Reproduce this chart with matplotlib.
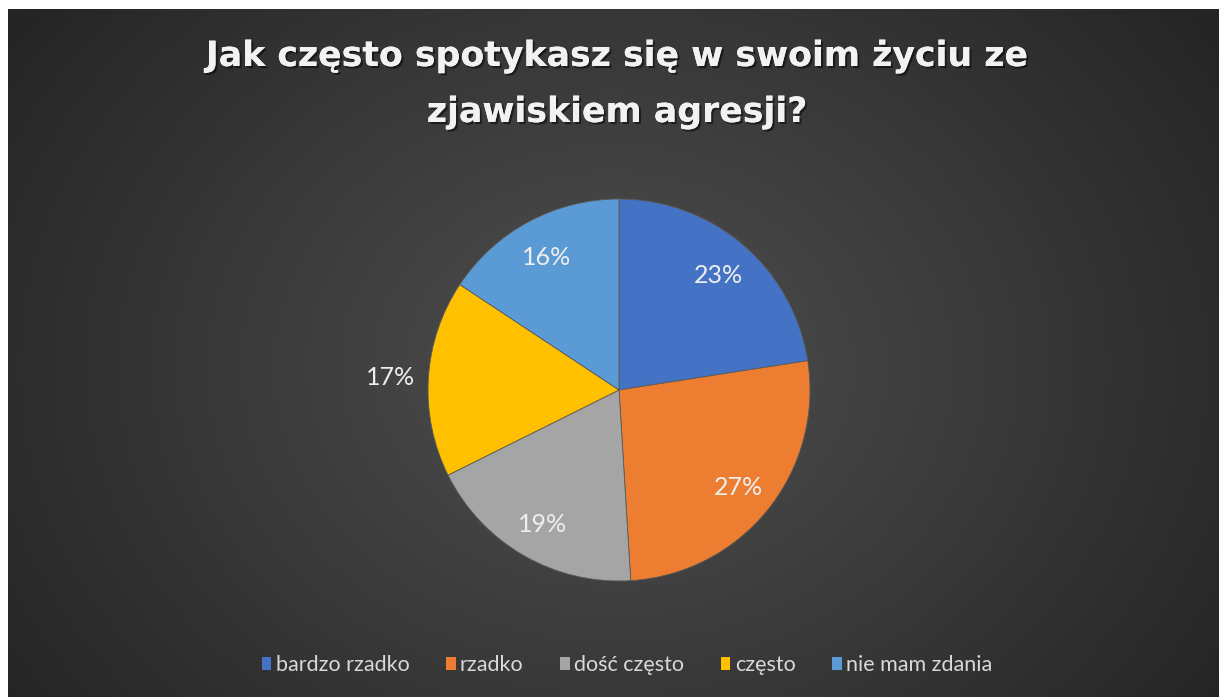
import numpy as np
import matplotlib
matplotlib.use("Agg")
import matplotlib.pyplot as plt
from matplotlib.patches import Patch
import matplotlib.patheffects as pe

categories = ["bardzo rzadko", "rzadko", "dość często", "często", "nie mam zdania"]
values = [23, 27, 19, 17, 16]
colors = ["#4472C4", "#ED7D31", "#A5A5A5", "#FFC000", "#5B9BD5"]
title_lines = ["Jak często spotykasz się w swoim życiu ze", "zjawiskiem agresji?"]

W, H = 1219, 697
fig = plt.figure(figsize=(W / 100, H / 100), dpi=100, facecolor="white")

# background radial gradient
bg = fig.add_axes([8 / W, 0, 1 - 8 / W, 1 - 9 / H])
bg.set_axis_off()
yy, xx = np.mgrid[0:1:300j, 0:1:500j]
cx, cy = 0.5, 0.48
d = np.sqrt(((xx - cx) * 1.0) ** 2 + ((yy - cy) * 0.7) ** 2)
d = d / d.max()
c_in = np.array([0x50, 0x50, 0x50]) / 255
c_out = np.array([0x24, 0x24, 0x24]) / 255
img = c_in[None, None, :] * (1 - d[..., None]) + c_out[None, None, :] * d[..., None]
bg.imshow(img, extent=[0, 1, 0, 1], aspect="auto", origin="lower")
bg.set_xlim(0, 1)
bg.set_ylim(0, 1)

font = "Lato"
shadow = [pe.withSimplePatchShadow(offset=(1.5, -1.5), shadow_rgbFace="black", alpha=0.5), pe.Normal()]

# title (two lines)
for line, base in zip(title_lines, [66, 122]):
    fig.text(617 / W, 1 - base / H, line, ha="center", va="baseline", color="#f2f2f2",
             fontsize=25, fontweight="bold", family="DejaVu Sans", path_effects=shadow)

# pie
cxp, cyp, r = 619, H - 390, 191
ax = fig.add_axes([(cxp - r) / W, (cyp - r) / H, 2 * r / W, 2 * r / H])
wedges, texts, autotexts = ax.pie(values, colors=colors, startangle=90, counterclock=False,
                                  radius=1, pctdistance=0.8,
                                  autopct=lambda p: "",
                                  wedgeprops=dict(edgecolor="#5a5a5a", linewidth=0.6))
for w, v, t in zip(wedges, values, autotexts):
    ang = np.deg2rad((w.theta1 + w.theta2) / 2)
    dist = 1.2 if v == 17 else 0.8
    t.set_position((dist * np.cos(ang), dist * np.sin(ang)))
    t.set_text(f"{v}%")
    t.set_color("#eeeeee")
    t.set_fontsize(18)
    t.set_family(font)
    t.set_ha("center")
    t.set_va("center_baseline")
ax.set_xlim(-1, 1)
ax.set_ylim(-1, 1)
ax.set_aspect("equal")
ax.set_axis_off()

handles = [Patch(facecolor=c, edgecolor="none") for c in colors]
leg = fig.legend(handles, categories, loc="center", bbox_to_anchor=(627 / W, 32 / H), ncol=5,
                 frameon=False, handlelength=0.45, handleheight=0.55, handletextpad=0.2,
                 columnspacing=1.7, prop=dict(family=font, size=15.5))
for t in leg.get_texts():
    t.set_color("#d9d9d9")

fig.savefig("out.png", dpi=100, facecolor="white")
